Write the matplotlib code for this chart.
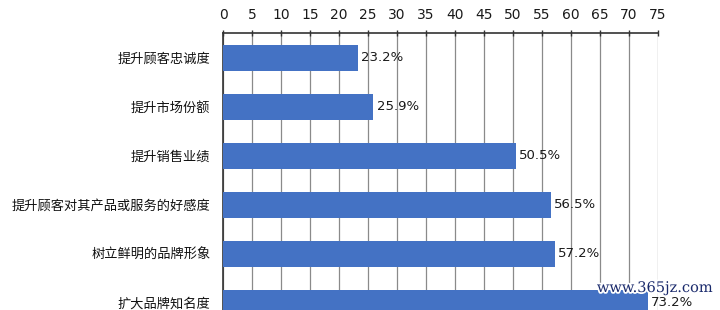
import matplotlib
matplotlib.use("Agg")
import matplotlib.pyplot as plt
import matplotlib.patheffects as pe

plt.rcParams['font.family'] = ['Noto Sans CJK SC', 'DejaVu Sans']

categories = ["提升顾客忠诚度", "提升市场份额", "提升销售业绩",
              "提升顾客对其产品或服务的好感度", "树立鲜明的品牌形象", "扩大品牌知名度"]
values = [23.2, 25.9, 50.5, 56.5, 57.2, 73.2]
xticks = list(range(0, 80, 5))

W, H = 720, 310
fig = plt.figure(figsize=(W / 100, H / 100), dpi=100)
left, right, top, bottom = 223, 658, 33, 310
ax = fig.add_axes([left / W, 1 - bottom / H, (right - left) / W, (bottom - top) / H])

pos = list(range(len(categories)))
ax.barh(pos, values, height=0.53, color="#4472C4", zorder=3)
for p, v in zip(pos, values):
    ax.text(v + 0.6, p, f"{v}%", va="center", ha="left", fontsize=9.5,
            color="#1a1a1a", family=["DejaVu Sans"], zorder=4)

ax.set_xlim(0, 75)
ax.set_ylim(5.15, -0.5)
ax.set_yticks(pos)
ax.set_yticklabels(categories, fontsize=9.5, color="#111111")
ax.set_xticks(xticks)
ax.xaxis.tick_top()
ax.tick_params(axis="x", which="both", labelsize=10, length=4, direction="inout",
               width=1, color="#333333", pad=6, labelcolor="#1a1a1a")
ax.tick_params(axis="y", length=0, pad=9)
for lab in ax.get_xticklabels():
    lab.set_family(["DejaVu Sans"])
ax.grid(axis="x", color="#8a8a8a", linewidth=0.9, zorder=0)
ax.grid(axis="y", visible=False)
for s in ["right", "bottom"]:
    ax.spines[s].set_visible(False)
ax.spines["top"].set_color("#333333")
ax.spines["top"].set_linewidth(1.2)
ax.spines["left"].set_color("#333333")
ax.spines["left"].set_linewidth(1.2)

fig.text(655 / W, 1 - 288 / H, "www.365jz.com", ha="center", va="center",
         fontsize=10.5, color="#1a2a6c", family=["DejaVu Serif"],
         path_effects=[pe.withStroke(linewidth=2.5, foreground="white")])

fig.savefig("out.png", dpi=100)
